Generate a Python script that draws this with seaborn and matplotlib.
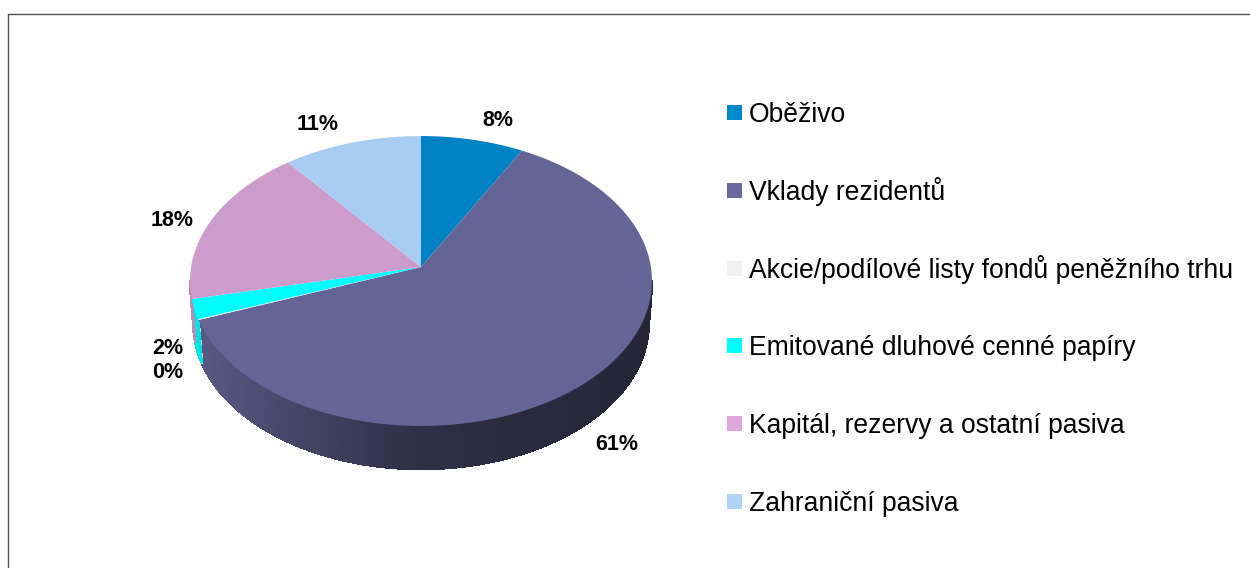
import numpy as np
import matplotlib as mpl
mpl.use('Agg')

import matplotlib.pyplot as plt
import matplotlib.transforms as mtransforms
from matplotlib.lines import Line2D
from matplotlib.patches import Rectangle
from matplotlib.path import Path
import seaborn as sns

categories = ['Oběživo', 'Vklady rezidentů', 'Akcie/podílové listy fondů peněžního trhu',
              'Emitované dluhové cenné papíry', 'Kapitál, rezervy a ostatní pasiva', 'Zahraniční pasiva']
shares = [7.9, 61.3, 0.1, 2.2, 17.8, 10.7]
slice_colors = ['#0082C4', '#656496', '#F0F0F0', '#00FFFF', '#CC9CCC', '#A9CCF2']
legend_colors = ['#0088CC', '#6A6AA0', '#F0F0F0', '#00FFFF', '#DDA6DD', '#B0D4F8']
label_pos = [(77, 147), (196, -177), (-253, -105), (-253, -81), (-249, 47), (-103, 142)]

# pie tilt, in pixels around the apex
RX, RY, PERSP, DEPTH, SHRINK = 229.9, 143.6, 0.0966, 43, 0.985
# legend rows, same pixel units
ROW_TOP, ROW_STEP, SWATCH_X, SWATCH, TEXT_X = 162, 77.8, 306, 15, 328


def project(u, v):
    return RX * u / (1 + PERSP * v), RY * v / (1 + PERSP * v)


class Tilt(mtransforms.Transform):
    input_dims = 2
    output_dims = 2

    def transform_non_affine(self, values):
        x, y = project(values[:, 0], values[:, 1])
        return np.column_stack([x, y])

    def transform_path_non_affine(self, path):
        # flatten the curves first, a bezier does not survive the perspective
        big = mtransforms.Affine2D().scale(2000).transform_path(path)
        verts = np.concatenate(big.to_polygons()) / 2000
        return Path(self.transform(verts))


sns.set_theme(style='white')
plt.rcParams['font.family'] = ['Liberation Sans', 'DejaVu Sans']
palette = sns.color_palette(slice_colors)

fig = plt.figure(figsize=(12.5, 5.68), dpi=100)
ax = fig.add_axes([0, 0, 1, 1])

# side wall first, top face goes over it
edges = 90 - 3.6 * np.cumsum([0] + shares)
for i, color in enumerate(palette):
    angles = np.linspace(edges[i], edges[i + 1], max(2, int(shares[i] * 12)))
    angles = np.radians(angles)
    for t0, t1 in zip(angles[:-1], angles[1:]):
        if np.sin(t0) > -PERSP and np.sin(t1) > -PERSP:
            continue
        x, y = project(np.cos([t0, t1]), np.sin([t0, t1]))
        shade = np.interp((x.mean() + RX) / (2 * RX), [0, 0.12, 0.5, 1], [0.9, 0.78, 0.46, 0.37])
        ax.fill([x[0], x[1], x[1] * SHRINK, x[0] * SHRINK], [y[0], y[1], y[1] - DEPTH, y[0] - DEPTH],
                color=np.array(color) * shade, linewidth=1.2, antialiased=False, zorder=1)

wedges, _ = ax.pie(shares, colors=palette, startangle=90, counterclock=False,
                   wedgeprops={'linewidth': 0, 'zorder': 2})
tilt = Tilt() + ax.transData
for w in wedges:
    w.set_transform(tilt)

ax.set_aspect('auto')
ax.set_xlim(-421, 829)
ax.set_ylim(-301, 267)
ax.set_axis_off()

for share, (x, y) in zip(shares, label_pos):
    ax.text(x, y, '{:.0f}%'.format(share), ha='center', va='center',
            fontsize=15.5, fontweight='bold', color='black', zorder=3)

# drawn by hand, a legend spaces its rows unevenly because of the accents
for i, (name, c) in enumerate(zip(categories, legend_colors)):
    top = ROW_TOP - i * ROW_STEP
    ax.add_patch(Rectangle((SWATCH_X, top - SWATCH), SWATCH, SWATCH, facecolor=c, edgecolor='none'))
    ax.text(TEXT_X, top - SWATCH - 2, name, ha='left', va='baseline', fontsize=19.1, color='black')

# outer frame, open to the right and bottom
frame = '#555555'
fig.add_artist(Line2D([8 / 1250, 1], [1 - 14 / 568] * 2, color=frame, lw=1))
fig.add_artist(Line2D([8 / 1250] * 2, [0, 1 - 14 / 568], color=frame, lw=1))

fig.savefig('out.png', dpi=100, facecolor='white')
plt.close()
